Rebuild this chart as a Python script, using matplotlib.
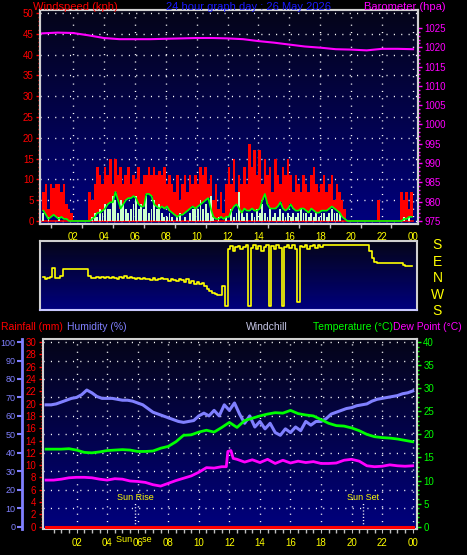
import numpy as np
import matplotlib
matplotlib.use('Agg')
import matplotlib.pyplot as plt
from matplotlib.colors import LinearSegmentedColormap
from matplotlib.transforms import blended_transform_factory

plt.rcParams['font.family'] = ['Liberation Sans', 'DejaVu Sans']

# ---------------- data ----------------
tick_hours = [2, 4, 6, 8, 10, 12, 14, 16, 18, 20, 22, 24]
tick_labels = ['02', '04', '06', '08', '10', '12', '14', '16', '18', '20', '22', '00']

# wind, one value every 10 minutes (kph)
wind_gust = [7, 9, 3, 9, 8, 9,   9, 7, 9, 4, 3, 2,   0, 0, 0, 0, 0, 0,
             7, 5, 9, 13, 11, 9,   13, 11, 15, 9, 15, 11,   13, 9, 11, 13, 9, 11,
             10, 13, 9, 11, 11, 13,   11, 13, 11, 12, 11, 13,   9, 11, 9, 7, 11, 5,
             9, 11, 7, 11, 9, 11,   9, 13, 11, 13, 9, 11,   5, 9, 3, 7, 2, 9,
             13, 9, 15, 7, 11, 9,   13, 9, 18.5, 13, 17, 11,   17, 9, 15, 11, 13, 7,
             15, 11, 9, 13, 11, 15,   11, 7, 11, 9, 7, 11,   9, 7, 11, 13, 9, 7,
             9, 11, 7, 9, 11, 5,   9, 7, 5, 3, 0, 0,   0, 0, 0, 0, 0, 0,
             0, 0, 0, 0, 5, 0,   0, 0, 0, 0, 0, 0,   0, 7, 5, 7, 3, 7]
wind_avg = [2.5, 1.5, 0.5, 1, 1.5, 1,   0.5, 1, 0.5, 0.5, 0, 0,   0, 0, 0, 0, 0, 0,
            0, 0.5, 1, 2, 2, 2.5,   3, 4, 4.5, 4.5, 7, 5,   3, 4, 5, 5.5, 5.5, 6,
            5.5, 4, 3.5, 3.5, 6.5, 6.5,   6, 4, 3.5, 3, 3.5, 3,   3.5, 2.5, 2, 1.5, 1, 1.5,
            1.5, 2, 2.5, 3, 3.5, 3,   3.5, 4, 4.5, 5, 5.5, 3,   1, 0.5, 0.5, 1, 0.5, 1,
            1, 2.5, 3.5, 4, 3, 2,   3, 2.5, 2.5, 3, 2.5, 2.5,   3, 5, 6.5, 4, 3, 3,
            3, 3.5, 4.5, 3, 2.5, 3,   4, 3, 2.5, 2.5, 3, 3,   2.5, 2, 3, 2.5, 2, 2,
            2.5, 2.5, 2.5, 3, 3.5, 3,   2.5, 2, 1, 0.5, 0, 0,   0, 0, 0, 0, 0, 0,
            0, 0, 0, 0, 0, 0,   0, 0, 0, 0, 0, 0,   0, 0, 0.5, 0.5, 1, 1]
wind_speed = [2, 0, 1, 0, 0, 0,   1, 0, 0, 0, 0, 0,   0, 0, 0, 0, 0, 0,
              0, 1, 2, 1, 3, 2,   4, 3, 3, 6, 5, 2,   5, 4, 3, 2, 3, 4,
              6, 3, 4, 3, 6, 2,   3, 5, 3, 4, 2, 1,   1, 2, 1, 0, 1, 2,
              0, 1, 0, 2, 3, 3,   3, 5, 3, 4, 2, 6,   1, 0, 1, 0, 0, 1,
              0, 3, 1, 2, 7, 2,   1, 2, 0, 2, 1, 3,   2, 4, 2, 1, 3, 1,
              2, 1, 3, 2, 1, 2,   1, 2, 1, 2, 3, 2,   2, 1, 2, 1, 2, 1,
              2, 2, 1, 2, 3, 2,   2, 2, 0, 0, 0, 0,   0, 0, 0, 0, 0, 0,
              0, 0, 0, 0, 0, 0,   0, 0, 0, 0, 0, 0,   0, 0, 1, 0, 1, 0]

# barometer, hourly (hPa)
baro = [1023.6, 1023.8, 1023.7, 1023.1, 1022.4, 1022.1, 1022.1, 1022.1, 1022.2,
        1022.3, 1022.4, 1022.4, 1022.3, 1022.1, 1021.6, 1021.2, 1020.7, 1020.2,
        1019.9, 1019.5, 1019.4, 1019.2, 1019.6, 1019.6, 1019.5]

# wind direction every 10 minutes (degrees, N = 0, S = +/-180)
wind_dir = [5, -3, 2, 8, 55, 0,   -2, 10, 47, 47, 47, 47,   47, 47, 47, 47, 47, 47,
            10, 2, -2, 4, 0, 3,   -1, 5, 0, 8, 2, -3,   4, 0, 10, -2, 3, 1,
            -4, 2, -6, 0, -8, -3,   -10, 0, -12, -5, 2, -8,   -6, -14, -4, -10, -18, -6,
            -12, -20, -8, -25, -15, -30,   -20, -33, -25, -45, -60, -70,   -80, -88, -93, -90, -42, -150,
            160, 172, 150, 168, 175, 158,   170, 180, -150, 165, 178, 160,   175, 150, 168, 180, -150, 172,
            160, 178, 165, -150, 170, 182,   165, 178, 160, -130, 175, 168,   180, 160, 175, 182, 165, 178,
            170, 182, 178, 181, 181, 181,   181, 181, 181, 181, 181, 181,   181, 181, 181, 181, 181, 181,
            181, 150, 110, 85, 80, 80,   80, 80, 80, 80, 80, 80,   80, 80, 70, 67, 67, 67]

# humidity every 20 minutes (%)
humidity = [66, 66, 66.5, 67.5, 68.5, 69.5, 70, 71.5, 74, 72.5, 70.5, 69.5,
            69.5, 69.5, 69, 68.5, 68.5, 68, 67, 66, 64, 62, 61, 60,
            59, 58, 57, 56.5, 57, 57.5, 60, 61.5, 60, 63, 60, 66,
            63, 67, 61, 56, 60, 54, 57, 53, 56, 51, 49.5, 53,
            51, 54, 52, 57, 55, 57, 57, 58.5, 61, 62, 63, 64,
            64.5, 65.5, 66, 66.5, 68, 69, 69.5, 70, 70.5, 71, 72, 72.5, 73.5]

# temperature every 30 minutes (C)
temperature = [16.8, 16.8, 16.8, 16.9, 16.6, 16.1, 16.0, 16.2, 16.5, 16.6, 16.7, 16.6,
               16.3, 16.3, 16.4, 17.0, 17.4, 18.4, 19.8, 19.9, 20.5, 20.9, 20.5, 21.5,
               22.6, 21.5, 23.0, 23.5, 24.0, 24.4, 24.7, 24.6, 25.2, 24.5, 24.2, 24.0,
               23.2, 22.4, 21.9, 21.8, 21.4, 20.8, 20.0, 19.5, 19.3, 19.2, 19.0, 18.7, 18.4]

# dew point (C)
dew_hours = [0, 0.5, 1, 1.5, 2, 2.5, 3, 3.5, 4, 4.5, 5, 5.5, 6, 6.5, 7, 7.5, 8, 8.5,
             9, 9.5, 10, 10.5, 11, 11.5, 11.8, 11.9, 12.1, 12.25, 12.5, 13, 13.5, 14,
             14.5, 15, 15.5, 16, 16.5, 17, 17.5, 18, 18.5, 19, 19.5, 20, 20.5, 21,
             21.5, 22, 22.5, 23, 23.5, 24]
dew_point = [10.1, 10.1, 10.3, 10.6, 10.7, 10.7, 10.6, 10.3, 10.1, 10.4, 10.3, 9.9,
             9.8, 9.6, 9.1, 8.8, 9.4, 10.0, 10.5, 11.0, 11.8, 12.8, 12.7, 13.0, 13.0,
             16.3, 16.5, 14.8, 14.6, 14.0, 14.5, 13.9, 14.6, 13.7, 14.4, 13.8, 14.2,
             13.9, 14.1, 13.7, 13.7, 13.8, 14.4, 14.6, 14.2, 13.2, 13.0, 13.1, 13.4,
             13.2, 13.1, 13.2]

rain_hours = [0, 24]
rainfall = [0, 0]

sun_rise = 5.82
sun_set = 20.76

# ---------------- helpers ----------------
BG = LinearSegmentedColormap.from_list('bg', ['#00007e', '#050518'])
SPINE = '#d0d0d0'
DOTS = (0, (0.8, 4.5))


def paint_bg(ax):
    grad = np.linspace(0, 1, 256).reshape(-1, 1)
    ax.imshow(grad, extent=(0, 1, 0, 1), transform=ax.transAxes, origin='lower',
              aspect='auto', cmap=BG, zorder=0)


def style_spines(ax, color=SPINE):
    for s in ax.spines.values():
        s.set_color(color)
        s.set_linewidth(1.5)


fig = plt.figure(figsize=(4.67, 5.55), dpi=100, facecolor='black')

# ---------------- top: wind + barometer ----------------
ax_w = fig.add_axes([0.0857, 0.5964, 0.8094, 0.3856])
paint_bg(ax_w)
hrs = np.arange(len(wind_gust)) / 6
gust = np.array(wind_gust, dtype=float)
avg = np.array(wind_avg, dtype=float)
speed = np.array(wind_speed, dtype=float)

ax_w.plot([0, 24], [0, 0], color='red', lw=1.2, zorder=1.5)
ax_w.bar(hrs, np.clip(gust - avg, 0, None), bottom=avg, width=1 / 6, align='edge',
         color='#ff0000', lw=0, zorder=2)
ax_w.bar(hrs + 1 / 48, speed, width=0.12, align='edge', color='#ccffcc', lw=0, zorder=3)
ax_w.plot(hrs + 1 / 12, avg, color='#00ff00', lw=1.2, zorder=4)

ax_w.set_xlim(-0.13, 24.32)
ax_w.set_ylim(-0.72, 50.72)
ax_w.set_yticks(range(0, 51, 5))
ax_w.set_yticks(range(0, 51), minor=True)
ax_w.tick_params(axis='y', which='both', colors='red', labelsize=7, pad=1.5, width=1)
ax_w.tick_params(axis='y', which='major', length=3)
ax_w.tick_params(axis='y', which='minor', length=1.5)
ax_w.set_xticks(tick_hours, tick_labels)
ax_w.set_xticks(np.arange(0.6, 24, 2), minor=True)
ax_w.tick_params(axis='x', which='major', length=0, labelcolor='yellow', labelsize=7, pad=6)
ax_w.tick_params(axis='x', which='minor', length=3, color='#c0c0c0', width=1)
ax_w.set_axisbelow(True)
ax_w.grid(True, which='major', color='white', linestyle=DOTS, linewidth=1)
style_spines(ax_w)

ax_b = ax_w.twinx()
ax_b.plot(np.arange(len(baro)), baro, color='#ff00ff', lw=1.5)
ax_b.set_ylim(974.22, 1029.66)
ax_b.set_yticks(range(975, 1026, 5))
ax_b.set_yticks(range(975, 1026), minor=True)
ax_b.tick_params(axis='y', which='both', colors='#ff00ff', labelsize=7, pad=1.5, width=1)
ax_b.tick_params(axis='y', which='major', length=3)
ax_b.tick_params(axis='y', which='minor', length=1.5)
style_spines(ax_b)

fig.text(33 / 467, 1 - 7 / 555, 'Windspeed (kph)', color='red', fontsize=8, ha='left', va='center')
fig.text(249 / 467, 1 - 7 / 555, '24 hour graph day : 26 May 2026', color='#1a1aff',
         fontsize=8, ha='center', va='center')
fig.text(446 / 467, 1 - 7 / 555, 'Barometer (hpa)', color='#ff00ff', fontsize=8, ha='right', va='center')

# ---------------- middle: wind direction ----------------
ax_d = fig.add_axes([0.0857, 0.4414, 0.8073, 0.1243])
paint_bg(ax_d)
ax_d.plot(hrs + 1 / 12, wind_dir, drawstyle='steps-mid', color='yellow', lw=1.2)
ax_d.set_xlim(-0.13, 24.26)
ax_d.set_ylim(-174.5, 201.8)
ax_d.set_xticks([])
ax_d.set_yticks([])
style_spines(ax_d)
ax_d.spines['bottom'].set_color('#c8c8ff')
tr = blended_transform_factory(ax_d.transAxes, ax_d.transData)
for lab, val in zip(['S', 'E', 'N', 'W', 'S'], [180, 90, 0, -90, -180]):
    ax_d.text(1.054, val, lab, transform=tr, color='yellow', fontsize=10,
              ha='center', va='center', clip_on=False)

# ---------------- bottom: rain / humidity / temperature ----------------
ax_r = fig.add_axes([0.0914, 0.0463, 0.8015, 0.3423])
paint_bg(ax_r)
ax_r.set_xlim(-0.22, 24.28)
ax_r.set_ylim(-0.42, 30.44)
ax_r.set_yticks(range(0, 31, 2))
ax_r.set_yticks(np.arange(0, 30.1, 0.5), minor=True)
ax_r.tick_params(axis='y', which='both', colors='red', labelsize=7, pad=1.5, width=1)
ax_r.tick_params(axis='y', which='major', length=3)
ax_r.tick_params(axis='y', which='minor', length=1.5)
ax_r.set_xticks(tick_hours, tick_labels)
ax_r.set_xticks(np.arange(0.5, 24, 0.5), minor=True)
ax_r.tick_params(axis='x', which='major', length=3, color='#c0c0c0', labelcolor='yellow',
                 labelsize=7, pad=3.5)
ax_r.tick_params(axis='x', which='minor', length=3, color='#c0c0c0', width=1)
ax_r.set_axisbelow(True)
ax_r.grid(True, axis='x', which='major', color='white', linestyle=DOTS, linewidth=1)
for hv in range(10, 101, 10):
    ax_r.axhline(hv * 30 / 100, color='white', linestyle=DOTS, linewidth=1, zorder=0.5)
ax_r.plot(rain_hours, rainfall, color='red', lw=2.2, zorder=3)
style_spines(ax_r)

ax_r.vlines([sun_rise, sun_set], 0, 3.8, colors='white', linestyles=(0, (0.8, 1.5)), lw=1, zorder=2)
ax_r.text(sun_rise, 4.8, 'Sun Rise', color='yellow', fontsize=6.5, ha='center', va='center')
ax_r.text(sun_set, 4.8, 'Sun Set', color='yellow', fontsize=6.5, ha='center', va='center')
ax_r.text(sun_rise - 0.1, -0.053, 'Sun    se',
          transform=blended_transform_factory(ax_r.transData, ax_r.transAxes),
          color='yellow', fontsize=6.5, ha='center', va='center', clip_on=False)

ax_h = ax_r.twinx()
ax_h.plot(np.arange(len(humidity)) / 3, humidity, color='#8080ff', lw=2.2)
ax_h.set_ylim(-1.4, 101.47)
ax_h.yaxis.tick_left()
ax_h.spines['left'].set_position(('outward', 15))
for side in ['right', 'top', 'bottom']:
    ax_h.spines[side].set_visible(False)
ax_h.spines['left'].set_color('#8080ff')
ax_h.spines['left'].set_linewidth(2)
ax_h.set_yticks(range(0, 101, 10))
ax_h.tick_params(axis='y', colors='#8080ff', labelsize=6.5, length=3.5, width=1.5, pad=1)

ax_t = ax_r.twinx()
ax_t.plot(np.arange(len(temperature)) / 2, temperature, color='#00ff00', lw=2)
ax_t.plot(dew_hours, dew_point, color='#ff00ff', lw=2)
ax_t.set_ylim(-0.56, 40.59)
ax_t.set_yticks(range(0, 41, 5))
ax_t.set_yticks(range(0, 41), minor=True)
ax_t.tick_params(axis='y', which='both', colors='#00ff00', labelsize=7, pad=1.5, width=1)
ax_t.tick_params(axis='y', which='major', length=3)
ax_t.tick_params(axis='y', which='minor', length=1.5)
for side in ['left', 'top', 'bottom']:
    ax_t.spines[side].set_visible(False)
ax_t.spines['right'].set_color(SPINE)
ax_t.spines['right'].set_linewidth(1.5)

ly = 1 - 326.7 / 555
fig.text(1 / 467, ly, 'Rainfall (mm)', color='red', fontsize=7.5, ha='left', va='center')
fig.text(67 / 467, ly, 'Humidity (%)', color='#8080ff', fontsize=7.5, ha='left', va='center')
fig.text(246 / 467, ly, 'Windchill', color='#c8c8e8', fontsize=7.5, ha='left', va='center')
fig.text(313 / 467, ly, 'Temperature (°C)', color='#00ff00', fontsize=7.5, ha='left', va='center')
fig.text(393 / 467, ly, 'Dew Point (°C)', color='#ff00ff', fontsize=7.5, ha='left', va='center')

fig.savefig('out.png', dpi=100, facecolor='black')
